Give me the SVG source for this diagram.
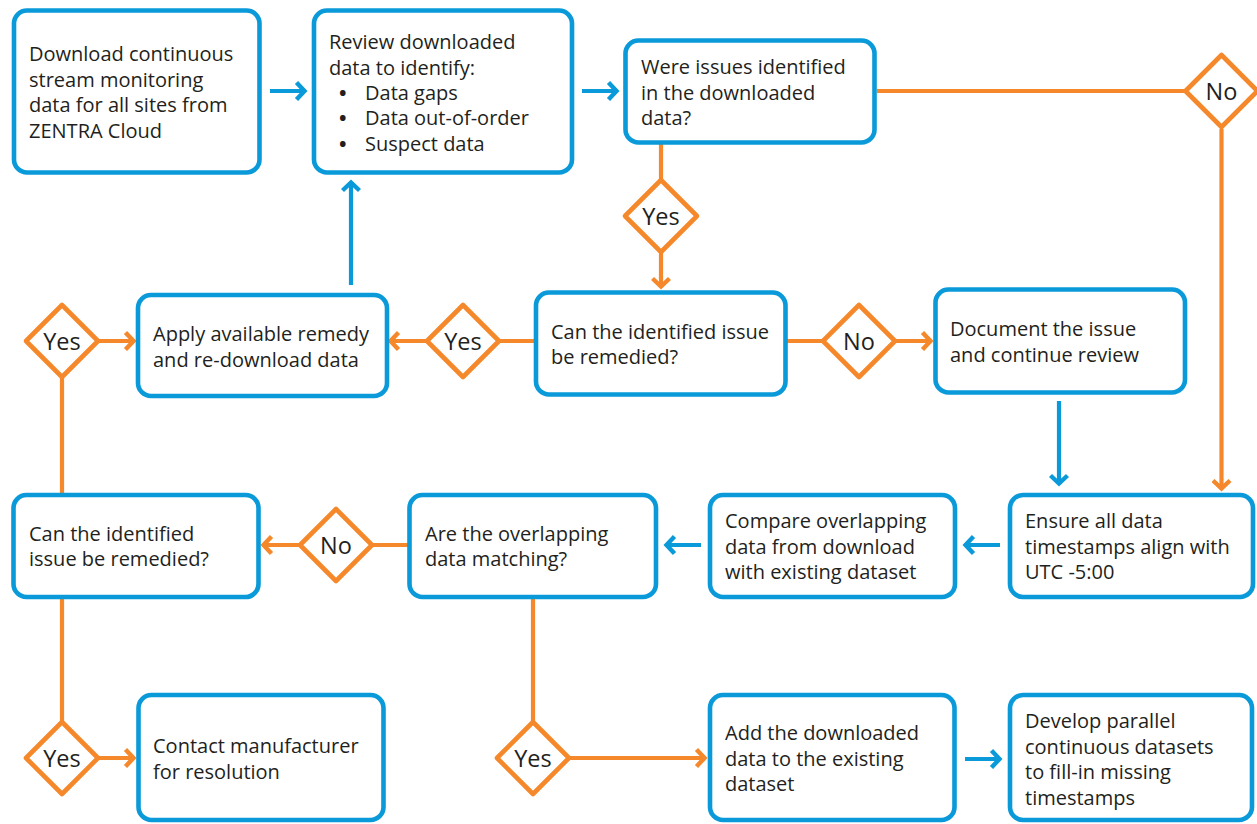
<svg xmlns="http://www.w3.org/2000/svg" width="1257" height="824" viewBox="0 0 1257 824">
<style>
.box{fill:#fff;stroke:#0A9AD9;stroke-width:4.6}
.dia{fill:#fff;stroke:#F4882A;stroke-width:4.6;stroke-linejoin:round}
.t{font-family:"Open Sans","Noto Sans","Liberation Sans",sans-serif;font-size:20px;fill:#231F20}
.tc{font-family:"Open Sans","Noto Sans","Liberation Sans",sans-serif;font-size:23.5px;fill:#231F20;text-anchor:middle}
.ob{fill:none;stroke:#F4882A;stroke-width:4.2}
.bb{fill:none;stroke:#0A9AD9;stroke-width:4.2}
</style>
<defs>
<marker id="ao" markerUnits="userSpaceOnUse" markerWidth="20" markerHeight="20" viewBox="0 0 20 20" refX="14" refY="10" orient="auto">
<path d="M5.5,1.5 L13.5,10 L5.5,18.5" fill="none" stroke="#F4882A" stroke-width="4.4"/>
</marker>
<marker id="ab" markerUnits="userSpaceOnUse" markerWidth="20" markerHeight="20" viewBox="0 0 20 20" refX="14" refY="10" orient="auto">
<path d="M5.5,1.5 L13.5,10 L5.5,18.5" fill="none" stroke="#0A9AD9" stroke-width="4.4"/>
</marker>
</defs>
<g id="connectors">
<path class="bb" d="M270,91 L305,91" marker-end="url(#ab)"/>
<path class="bb" d="M582,91 L617,91" marker-end="url(#ab)"/>
<path class="ob" d="M877,91 L1184,91"/>
<path class="ob" d="M1221.5,129 L1221.5,489" marker-end="url(#ao)"/>
<path class="ob" d="M661,143 L661,180"/>
<path class="ob" d="M661,252 L661,287" marker-end="url(#ao)"/>
<path class="ob" d="M536,341 L500,341"/>
<path class="ob" d="M426,341 L390,341" marker-end="url(#ao)"/>
<path class="ob" d="M786,341 L822,341"/>
<path class="ob" d="M896,341 L931,341" marker-end="url(#ao)"/>
<path class="bb" d="M1059,401 L1059,484" marker-end="url(#ab)"/>
<path class="bb" d="M351,285 L351,182" marker-end="url(#ab)"/>
<path class="ob" d="M99,341 L134,341" marker-end="url(#ao)"/>
<path class="ob" d="M62,378 L62,495"/>
<path class="bb" d="M1000,545 L965,545" marker-end="url(#ab)"/>
<path class="bb" d="M701,545 L666,545" marker-end="url(#ab)"/>
<path class="ob" d="M409,545 L373,545"/>
<path class="ob" d="M299,545 L263,545" marker-end="url(#ao)"/>
<path class="ob" d="M62,597 L62,721"/>
<path class="ob" d="M99,758 L134,758" marker-end="url(#ao)"/>
<path class="ob" d="M533,597 L533,721"/>
<path class="ob" d="M570,758 L705,758" marker-end="url(#ao)"/>
<path class="bb" d="M965,759 L1000,759" marker-end="url(#ab)"/>
</g>
<g id="n1"><rect class="box" x="14" y="10.5" width="245.5" height="162" rx="13"/>
<text class="t" x="29"><tspan x="29" y="61">Download continuous</tspan><tspan x="29" y="87">stream monitoring</tspan><tspan x="29" y="112">data for all sites from</tspan><tspan x="29" y="138">ZENTRA Cloud</tspan></text></g>
<g id="n2"><rect class="box" x="314" y="10.5" width="258" height="162" rx="13"/>
<text class="t"><tspan x="329" y="49">Review downloaded</tspan><tspan x="329" y="75">data to identify:</tspan></text>
<text class="t" font-weight="700"><tspan x="339" y="100">•</tspan><tspan x="339" y="125">•</tspan><tspan x="339" y="151">•</tspan></text>
<text class="t"><tspan x="365" y="100">Data gaps</tspan><tspan x="365" y="125">Data out-of-order</tspan><tspan x="365" y="151">Suspect data</tspan></text></g>
<g id="n3"><rect class="box" x="625.5" y="40.5" width="249" height="102" rx="13"/>
<text class="t"><tspan x="641" y="74">Were issues identified</tspan><tspan x="641" y="100">in the downloaded</tspan><tspan x="641" y="125">data?</tspan></text></g>
<g id="d_no1"><polygon class="dia" points="1221.5,55 1257.5,91 1221.5,127 1185.5,91"/><text class="tc" x="1221.5" y="100">No</text></g>
<g id="d_yes1"><polygon class="dia" points="661,180 697,216 661,252 625,216"/><text class="tc" x="661" y="225">Yes</text></g>
<g id="n_apply"><rect class="box" x="138" y="295" width="249" height="101" rx="13"/>
<text class="t"><tspan x="153" y="341">Apply available remedy</tspan><tspan x="153" y="367">and re-download data</tspan></text></g>
<g id="d_yes2"><polygon class="dia" points="463,305 499,341 463,377 427,341"/><text class="tc" x="463" y="350">Yes</text></g>
<g id="d_yes3"><polygon class="dia" points="62,305 98,341 62,377 26,341"/><text class="tc" x="62" y="350">Yes</text></g>
<g id="n_can1"><rect class="box" x="536" y="292.5" width="249.5" height="102" rx="13"/>
<text class="t"><tspan x="551" y="339">Can the identified issue</tspan><tspan x="551" y="364">be remedied?</tspan></text></g>
<g id="d_no2"><polygon class="dia" points="859,305 895,341 859,377 823,341"/><text class="tc" x="859" y="350">No</text></g>
<g id="n_doc"><rect class="box" x="935.5" y="289.5" width="249.5" height="103" rx="13"/>
<text class="t"><tspan x="950" y="336">Document the issue</tspan><tspan x="950" y="362">and continue review</tspan></text></g>
<g id="n_can2"><rect class="box" x="13.5" y="495" width="245" height="102" rx="13"/>
<text class="t"><tspan x="29" y="541">Can the identified</tspan><tspan x="29" y="566">issue be remedied?</tspan></text></g>
<g id="d_no3"><polygon class="dia" points="336,509 372,545 336,581 300,545"/><text class="tc" x="336" y="554">No</text></g>
<g id="n_are"><rect class="box" x="409.5" y="495" width="246.5" height="102" rx="13"/>
<text class="t"><tspan x="425" y="541">Are the overlapping</tspan><tspan x="425" y="566">data matching?</tspan></text></g>
<g id="n_compare"><rect class="box" x="710" y="495" width="245" height="102" rx="13"/>
<text class="t"><tspan x="725" y="528">Compare overlapping</tspan><tspan x="725" y="554">data from download</tspan><tspan x="725" y="579">with existing dataset</tspan></text></g>
<g id="n_ensure"><rect class="box" x="1010" y="495" width="243" height="102" rx="13"/>
<text class="t"><tspan x="1025" y="528">Ensure all data</tspan><tspan x="1025" y="554">timestamps align with</tspan><tspan x="1025" y="579">UTC -5:00</tspan></text></g>
<g id="d_yes4"><polygon class="dia" points="62,722 98,758 62,794 26,758"/><text class="tc" x="62" y="767">Yes</text></g>
<g id="n_contact"><rect class="box" x="138.5" y="695" width="245" height="125" rx="13"/>
<text class="t"><tspan x="153" y="753">Contact manufacturer</tspan><tspan x="153" y="779">for resolution</tspan></text></g>
<g id="d_yes5"><polygon class="dia" points="533,722 569,758 533,794 497,758"/><text class="tc" x="533" y="767">Yes</text></g>
<g id="n_add"><rect class="box" x="710" y="695" width="244.5" height="125" rx="13"/>
<text class="t"><tspan x="725" y="740">Add the downloaded</tspan><tspan x="725" y="766">data to the existing</tspan><tspan x="725" y="791">dataset</tspan></text></g>
<g id="n_develop"><rect class="box" x="1010" y="695" width="242" height="125" rx="13"/>
<text class="t"><tspan x="1025" y="728">Develop parallel</tspan><tspan x="1025" y="754">continuous datasets</tspan><tspan x="1025" y="779">to fill-in missing</tspan><tspan x="1025" y="805">timestamps</tspan></text></g>
</svg>
